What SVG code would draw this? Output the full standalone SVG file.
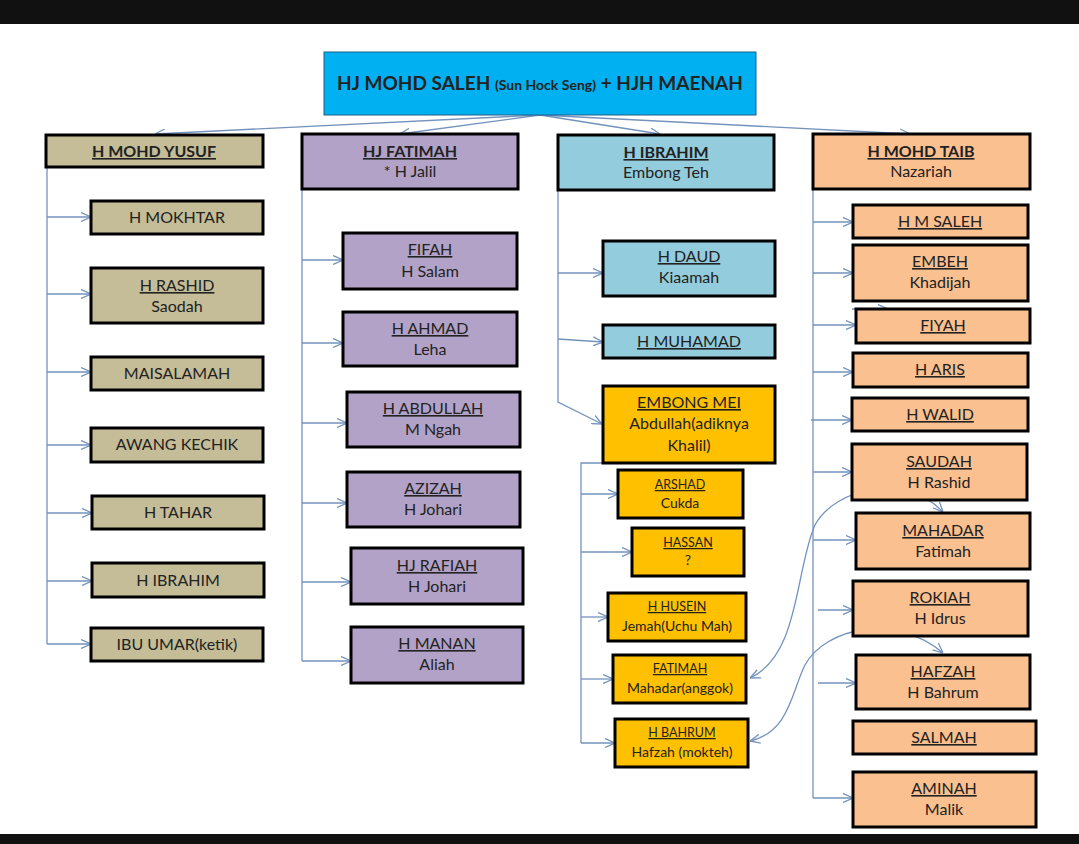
<svg xmlns="http://www.w3.org/2000/svg" width="1079" height="844" viewBox="0 0 1079 844">
<style>
text{font-family:Lato,"Open Sans","Liberation Sans",sans-serif;fill:#222;text-anchor:middle}
.t{font-size:16px}
.b{font-weight:bold}
.u{text-decoration:underline}
.s{font-size:12.5px}
.s2{font-size:14px}
.bx{stroke:#000;stroke-width:3}
.tan{fill:#c4bd97}.pur{fill:#b3a2c7}.blu{fill:#93cddd}.org{fill:#fac090}.gld{fill:#ffc000}
#conn path,#conn line{stroke:#7393bd;stroke-width:1.3;fill:none}
</style>
<defs>
<marker id="ah" viewBox="0 0 10 10" refX="10" refY="5" markerWidth="10" markerHeight="10" markerUnits="userSpaceOnUse" orient="auto-start-reverse">
<path d="M0,0.5 L10,5 L0,9.5" fill="none" stroke="#7393bd" stroke-width="1.3"/>
</marker>
</defs>
<rect width="1079" height="844" fill="#fff"/>
<rect x="0" y="0" width="1079" height="24" fill="#111"/>
<rect x="0" y="834" width="1079" height="10" fill="#111"/>

<g id="conn">
<line x1="540" y1="115" x2="155" y2="134" marker-end="url(#ah)"/>
<line x1="540" y1="115" x2="400" y2="134" marker-end="url(#ah)"/>
<line x1="540" y1="115" x2="660" y2="134" marker-end="url(#ah)"/>
<line x1="540" y1="115" x2="910" y2="134" marker-end="url(#ah)"/>
<path d="M47,167 V644"/>
<line x1="47" y1="217" x2="91" y2="217" marker-end="url(#ah)"/>
<line x1="47" y1="294" x2="91" y2="294" marker-end="url(#ah)"/>
<line x1="47" y1="372" x2="91" y2="372" marker-end="url(#ah)"/>
<line x1="47" y1="445" x2="91" y2="445" marker-end="url(#ah)"/>
<line x1="47" y1="513" x2="92" y2="513" marker-end="url(#ah)"/>
<line x1="47" y1="581" x2="92" y2="581" marker-end="url(#ah)"/>
<line x1="47" y1="644" x2="91" y2="644" marker-end="url(#ah)"/>
<path d="M302,189 V661"/>
<line x1="302" y1="260" x2="343" y2="260" marker-end="url(#ah)"/>
<line x1="302" y1="343" x2="343" y2="343" marker-end="url(#ah)"/>
<line x1="302" y1="423" x2="347" y2="423" marker-end="url(#ah)"/>
<line x1="302" y1="503" x2="347" y2="503" marker-end="url(#ah)"/>
<line x1="302" y1="582" x2="351" y2="582" marker-end="url(#ah)"/>
<line x1="302" y1="661" x2="351" y2="661" marker-end="url(#ah)"/>
<path d="M558,190 V402 L602,424" marker-end="url(#ah)"/>
<line x1="558" y1="273" x2="603" y2="273" marker-end="url(#ah)"/>
<line x1="558" y1="339" x2="603" y2="342" marker-end="url(#ah)"/>
<path d="M603,463 H581 V743"/>
<line x1="581" y1="494" x2="618" y2="494" marker-end="url(#ah)"/>
<line x1="581" y1="552" x2="632" y2="552" marker-end="url(#ah)"/>
<line x1="581" y1="617" x2="608" y2="617" marker-end="url(#ah)"/>
<line x1="581" y1="679" x2="613" y2="679" marker-end="url(#ah)"/>
<line x1="581" y1="743" x2="615" y2="743" marker-end="url(#ah)"/>
<path d="M813,189 V798"/>
<line x1="813" y1="222" x2="853" y2="222" marker-end="url(#ah)"/>
<line x1="813" y1="273" x2="853" y2="273" marker-end="url(#ah)"/>
<line x1="852" y1="309" x2="888" y2="309" marker-end="url(#ah)"/>
<line x1="813" y1="325" x2="856" y2="325" marker-end="url(#ah)"/>
<line x1="813" y1="372" x2="853" y2="372" marker-end="url(#ah)"/>
<line x1="811" y1="420" x2="852" y2="420" marker-end="url(#ah)"/>
<line x1="813" y1="472" x2="852" y2="472" marker-end="url(#ah)"/>
<line x1="813" y1="540" x2="856" y2="540" marker-end="url(#ah)"/>
<line x1="818" y1="610" x2="853" y2="610" marker-end="url(#ah)"/>
<line x1="818" y1="683" x2="856" y2="683" marker-end="url(#ah)"/>
<line x1="813" y1="798" x2="853" y2="798" marker-end="url(#ah)"/>
<path d="M750,678 C800,655 795,570 815,525 C835,488 905,472 943,512" marker-start="url(#ah)" marker-end="url(#ah)"/>
<path d="M750,741 C790,732 792,690 805,665 C825,628 895,612 943,653" marker-start="url(#ah)" marker-end="url(#ah)"/>
</g>

<g id="root">
<rect x="324" y="52" width="432" height="63" fill="#00b0f0" stroke="#1f5f8b" stroke-width="1"/>
<text x="540" y="90" class="b" font-size="19"><tspan>HJ MOHD SALEH </tspan><tspan font-size="14">(Sun Hock Seng)</tspan><tspan> + HJH MAENAH</tspan></text>
</g>

<g id="yusuf"><rect class="bx tan" x="46" y="135" width="217" height="32"/><text class="t b u" x="154" y="157">H MOHD YUSUF</text></g>
<g id="fatimah"><rect class="bx pur" x="302" y="134" width="216" height="55"/><text class="t b u" x="410" y="157">HJ FATIMAH</text><text class="t" x="410" y="177">* H Jalil</text></g>
<g id="ibrahim"><rect class="bx blu" x="558" y="135" width="216" height="55"/><text class="t b u" x="666" y="158">H IBRAHIM</text><text class="t" x="666" y="178">Embong Teh</text></g>
<g id="taib"><rect class="bx org" x="813" y="134" width="217" height="55"/><text class="t b u" x="921" y="157">H MOHD TAIB</text><text class="t" x="921" y="177">Nazariah</text></g>

<g id="mokhtar"><rect class="bx tan" x="91" y="201" width="172" height="33"/><text class="t" x="177" y="223">H MOKHTAR</text></g>
<g id="rashid"><rect class="bx tan" x="91" y="268" width="172" height="55"/><text class="t u" x="177" y="291">H RASHID</text><text class="t" x="177" y="312">Saodah</text></g>
<g id="maisalamah"><rect class="bx tan" x="91" y="357" width="172" height="33"/><text class="t" x="177" y="379">MAISALAMAH</text></g>
<g id="awang"><rect class="bx tan" x="91" y="428" width="172" height="34"/><text class="t" x="177" y="450">AWANG KECHIK</text></g>
<g id="tahar"><rect class="bx tan" x="92" y="496" width="172" height="33"/><text class="t" x="178" y="518">H TAHAR</text></g>
<g id="ibrahim2"><rect class="bx tan" x="92" y="563" width="172" height="34"/><text class="t" x="178" y="586">H IBRAHIM</text></g>
<g id="ibuumar"><rect class="bx tan" x="91" y="628" width="172" height="33"/><text class="t" x="177" y="650">IBU UMAR(ketik)</text></g>

<g id="fifah"><rect class="bx pur" x="343" y="233" width="174" height="56"/><text class="t u" x="430" y="255">FIFAH</text><text class="t" x="430" y="277">H Salam</text></g>
<g id="ahmad"><rect class="bx pur" x="343" y="312" width="174" height="54"/><text class="t u" x="430" y="334">H AHMAD</text><text class="t" x="430" y="355">Leha</text></g>
<g id="abdullah"><rect class="bx pur" x="347" y="392" width="173" height="55"/><text class="t u" x="433" y="414">H ABDULLAH</text><text class="t" x="433" y="435">M Ngah</text></g>
<g id="azizah"><rect class="bx pur" x="347" y="472" width="173" height="55"/><text class="t u" x="433" y="494">AZIZAH</text><text class="t" x="433" y="515">H Johari</text></g>
<g id="rafiah"><rect class="bx pur" x="351" y="548" width="172" height="56"/><text class="t u" x="437" y="571">HJ RAFIAH</text><text class="t" x="437" y="592">H Johari</text></g>
<g id="manan"><rect class="bx pur" x="351" y="627" width="172" height="56"/><text class="t u" x="437" y="649">H MANAN</text><text class="t" x="437" y="670">Aliah</text></g>

<g id="daud"><rect class="bx blu" x="603" y="241" width="172" height="55"/><text class="t u" x="689" y="262">H DAUD</text><text class="t" x="689" y="283">Kiaamah</text></g>
<g id="muhamad"><rect class="bx blu" x="603" y="325" width="172" height="33"/><text class="t u" x="689" y="347">H MUHAMAD</text></g>
<g id="embongmei"><rect class="bx gld" x="603" y="386" width="172" height="77"/><text class="t u" x="689" y="408">EMBONG MEI</text><text class="t" x="689" y="429">Abdullah(adiknya</text><text class="t" x="689" y="451">Khalil)</text></g>

<g id="arshad"><rect class="bx gld" x="618" y="470" width="125" height="48"/><text class="s u" x="680" y="489">ARSHAD</text><text class="s2" x="680" y="508">Cukda</text></g>
<g id="hassan"><rect class="bx gld" x="632" y="528" width="112" height="48"/><text class="s u" x="688" y="547">HASSAN</text><text class="s2" x="688" y="565">?</text></g>
<g id="husein"><rect class="bx gld" x="608" y="593" width="138" height="48"/><text class="s u" x="677" y="611">H HUSEIN</text><text class="s2" x="677" y="631">Jemah(Uchu Mah)</text></g>
<g id="fatimah2"><rect class="bx gld" x="613" y="655" width="133" height="48"/><text class="s u" x="680" y="673">FATIMAH</text><text class="s2" x="680" y="693">Mahadar(anggok)</text></g>
<g id="bahrum"><rect class="bx gld" x="615" y="719" width="133" height="48"/><text class="s u" x="682" y="737">H BAHRUM</text><text class="s2" x="682" y="757">Hafzah (mokteh)</text></g>

<g id="msaleh"><rect class="bx org" x="853" y="205" width="175" height="33"/><text class="t u" x="940" y="227">H M SALEH</text></g>
<g id="embeh"><rect class="bx org" x="853" y="245" width="175" height="56"/><text class="t u" x="940" y="267">EMBEH</text><text class="t" x="940" y="288">Khadijah</text></g>
<g id="fiyah"><rect class="bx org" x="856" y="309" width="174" height="34"/><text class="t u" x="943" y="331">FIYAH</text></g>
<g id="aris"><rect class="bx org" x="853" y="353" width="175" height="34"/><text class="t u" x="940" y="375">H ARIS</text></g>
<g id="walid"><rect class="bx org" x="852" y="398" width="176" height="33"/><text class="t u" x="940" y="420">H WALID</text></g>
<g id="saudah"><rect class="bx org" x="852" y="444" width="175" height="56"/><text class="t u" x="939" y="467">SAUDAH</text><text class="t" x="939" y="488">H Rashid</text></g>
<g id="mahadar"><rect class="bx org" x="856" y="513" width="174" height="56"/><text class="t u" x="943" y="536">MAHADAR</text><text class="t" x="943" y="557">Fatimah</text></g>
<g id="rokiah"><rect class="bx org" x="853" y="581" width="175" height="55"/><text class="t u" x="940" y="603">ROKIAH</text><text class="t" x="940" y="624">H Idrus</text></g>
<g id="hafzah"><rect class="bx org" x="856" y="655" width="174" height="54"/><text class="t u" x="943" y="677">HAFZAH</text><text class="t" x="943" y="698">H Bahrum</text></g>
<g id="salmah"><rect class="bx org" x="853" y="721" width="183" height="33"/><text class="t u" x="944" y="743">SALMAH</text></g>
<g id="aminah"><rect class="bx org" x="853" y="772" width="183" height="55"/><text class="t u" x="944" y="794">AMINAH</text><text class="t" x="944" y="815">Malik</text></g>
</svg>
